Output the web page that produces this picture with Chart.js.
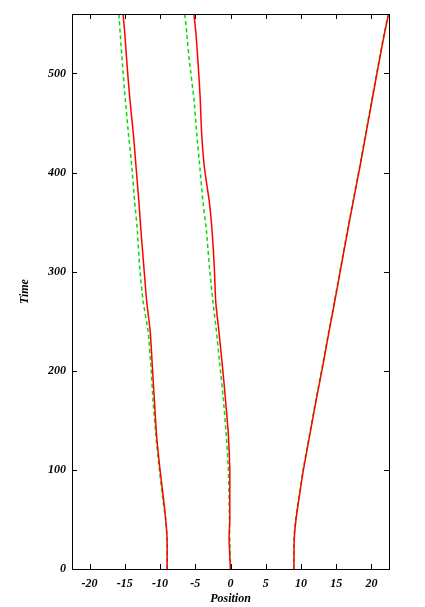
<!DOCTYPE html>
<html>
<head>
<meta charset="UTF-8">
<title>Position vs Time</title>
<script src="https://cdn.jsdelivr.net/npm/chart.js"></script>
<style>
  html, body { margin: 0; padding: 0; background: #fff; }
  #box { width: 425px; height: 607px; }
</style>
</head>
<body>
<div id="box"><canvas id="c"></canvas></div>
<script>
  // sample times (shared by every track)
  const times = [0, 30, 50, 70, 100, 135, 170, 205, 240, 270, 305, 340, 370, 405, 440, 475, 510, 540, 560];

  // left track
  const redLeft   = [-9.0, -9.0, -9.2, -9.5, -10.0, -10.5, -10.8, -11.1, -11.4, -11.9, -12.3, -12.7, -13.0, -13.4, -13.8, -14.3, -14.7, -15.0, -15.25];
  const greenLeft = [-9.0, -9.0, -9.2, -9.6, -10.1, -10.6, -11.0, -11.3, -11.7, -12.4, -12.9, -13.2, -13.6, -14.0, -14.5, -14.95, -15.35, -15.65, -15.85];
  // middle track
  const redMid    = [0.0, -0.2, -0.1, -0.1, -0.1, -0.3, -0.7, -1.15, -1.65, -2.1, -2.3, -2.6, -3.0, -3.7, -4.1, -4.3, -4.6, -4.9, -5.2];
  const greenMid  = [0.0, -0.1, -0.15, -0.2, -0.3, -0.6, -1.0, -1.5, -2.0, -2.5, -3.0, -3.4, -3.9, -4.35, -4.8, -5.2, -5.8, -6.2, -6.5];
  // right track
  const redRight  = [9.0, 9.05, 9.3, 9.7, 10.35, 11.25, 12.15, 13.1, 14.0, 14.8, 15.7, 16.6, 17.4, 18.35, 19.25, 20.15, 21.05, 21.85, 22.45];
  const greenRight= [9.0, 9.0, 9.25, 9.65, 10.3, 11.2, 12.1, 13.05, 13.95, 14.75, 15.65, 16.55, 17.35, 18.3, 19.2, 20.1, 21.0, 21.8, 22.4];

  const xTicks = [-20, -15, -10, -5, 0, 5, 10, 15, 20];
  const yTicks = [0, 100, 200, 300, 400, 500];

  const serif = { family: '"Liberation Serif", "DejaVu Serif", serif', size: 12, style: 'italic', weight: 'bold' };

  function track(xs, color, dashed, order) {
    return {
      data: times.map((t, i) => ({ x: xs[i], y: t })),
      showLine: true,
      borderColor: color,
      borderWidth: 1.5,
      borderDash: dashed ? [4, 3] : [],
      pointRadius: 0,
      tension: 0.2,
      fill: false,
      order: order
    };
  }

  // gnuplot style: box frame with ticks pointing inwards on all four sides
  const frameTicks = {
    id: 'frameTicks',
    afterDraw(chart) {
      const { ctx, chartArea: a, scales: { x, y } } = chart;
      ctx.save();
      ctx.strokeStyle = '#000';
      ctx.lineWidth = 1;
      ctx.beginPath();
      xTicks.forEach(v => {
        const px = Math.round(x.getPixelForValue(v)) + 0.5;
        ctx.moveTo(px, a.bottom); ctx.lineTo(px, a.bottom - 5);
        ctx.moveTo(px, a.top); ctx.lineTo(px, a.top + 5);
      });
      yTicks.forEach(v => {
        const py = Math.round(y.getPixelForValue(v)) + 0.5;
        ctx.moveTo(a.left, py); ctx.lineTo(a.left + 5, py);
        ctx.moveTo(a.right, py); ctx.lineTo(a.right - 5, py);
      });
      ctx.stroke();
      ctx.strokeRect(Math.round(a.left) + 0.5, Math.round(a.top) + 0.5,
                     Math.round(a.right - a.left), Math.round(a.bottom - a.top));
      ctx.restore();
    }
  };

  new Chart(document.getElementById('c'), {
    type: 'scatter',
    data: {
      datasets: [
        track(greenLeft, '#00e000', true, 2),
        track(greenMid, '#00e000', true, 2),
        track(greenRight, '#00e000', true, 2),
        track(redLeft, '#ff0000', false, 1),
        track(redMid, '#ff0000', false, 1),
        track(redRight, '#ff0000', false, 1)
      ]
    },
    options: {
      responsive: true,
      maintainAspectRatio: false,
      animation: false,
      layout: { padding: { left: 14, right: 36, top: 14, bottom: 0 } },
      plugins: { legend: { display: false }, tooltip: { enabled: false } },
      scales: {
        x: {
          type: 'linear',
          min: -22.5,
          max: 22.5,
          afterBuildTicks: s => { s.ticks = xTicks.map(v => ({ value: v })); },
          afterFit: s => { s.height = 38; },
          grid: { display: false, drawTicks: false },
          border: { display: false },
          ticks: { color: '#000', font: serif, padding: 8, maxRotation: 0 },
          title: { display: true, text: 'Position', color: '#000', font: serif, padding: { top: 0, bottom: 1 } }
        },
        y: {
          type: 'linear',
          min: 0,
          max: 560,
          afterBuildTicks: s => { s.ticks = yTicks.map(v => ({ value: v })); },
          afterFit: s => { s.width = 58; },
          grid: { display: false, drawTicks: false },
          border: { display: false },
          ticks: { color: '#000', font: serif, padding: 6 },
          title: { display: true, text: 'Time', color: '#000', font: serif, padding: { top: 4, bottom: 4 } }
        }
      }
    },
    plugins: [frameTicks]
  });
</script>
</body>
</html>
